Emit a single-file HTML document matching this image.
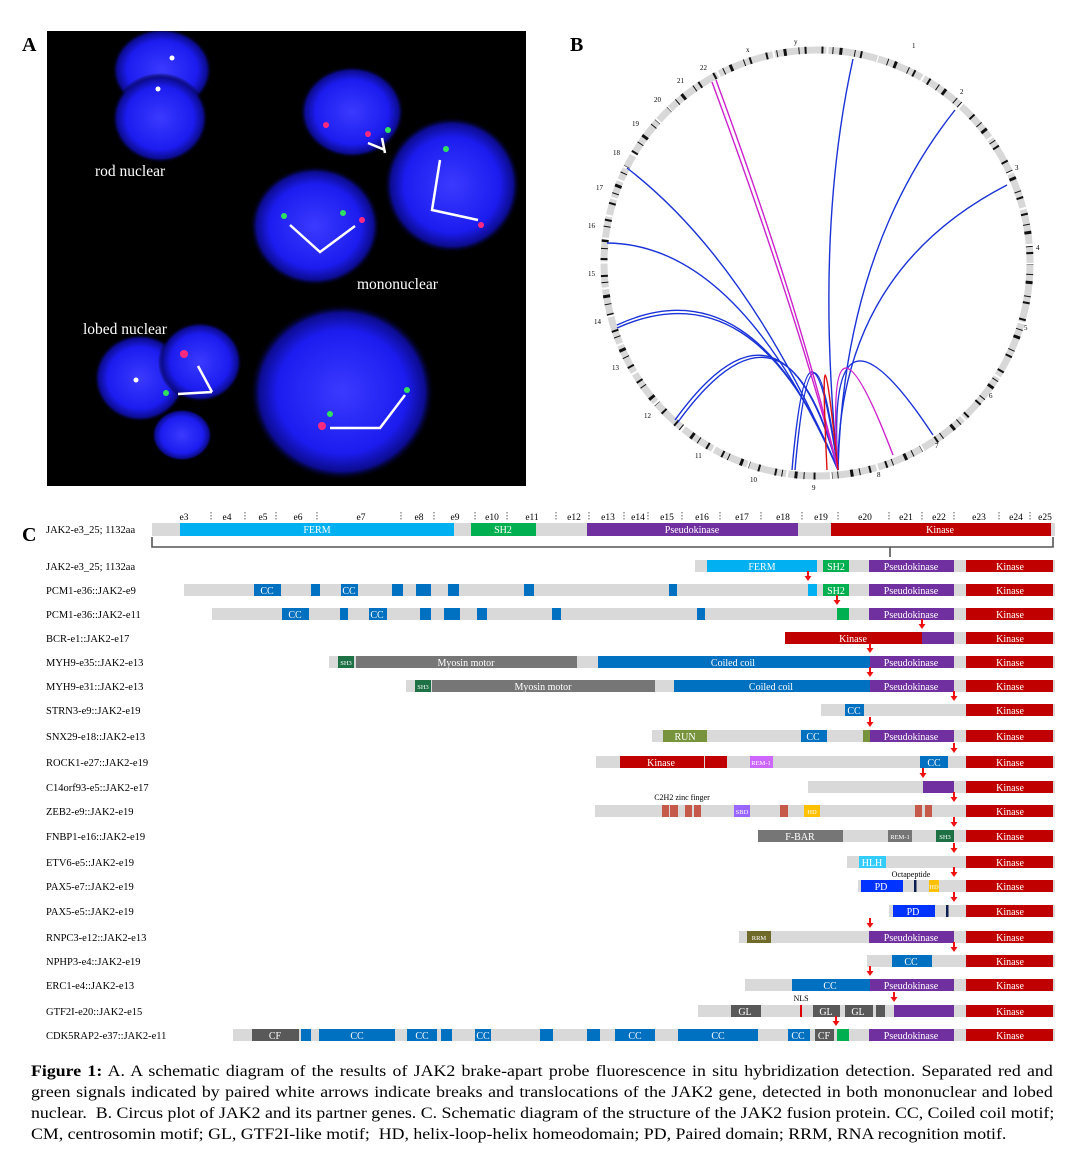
<!DOCTYPE html>
<html><head><meta charset="utf-8"><style>
body{margin:0;background:#fff;width:1080px;height:1160px;overflow:hidden;position:relative;font-family:"Liberation Serif",serif}
svg{position:absolute;left:0;top:0}
.cap{position:absolute;left:31px;top:1061px;width:918px;font-size:16px;line-height:21px;color:#000;transform:scaleX(1.113);transform-origin:0 0}
.cap div{text-align:justify;text-align-last:justify;white-space:nowrap}
.cap div.l{text-align-last:left}
</style></head><body>
<svg width="1080" height="1160" viewBox="0 0 1080 1160" font-family="Liberation Serif, serif">
<defs>
<radialGradient id="nb" cx="50%" cy="50%" r="50%">
<stop offset="0" stop-color="#3a3aff"/><stop offset="0.7" stop-color="#1c1cf0"/><stop offset="0.9" stop-color="#0c0c90"/><stop offset="1" stop-color="#000010" stop-opacity="0"/></radialGradient>
<clipPath id="ca"><rect x="47" y="31" width="479" height="455"/></clipPath>
</defs>
<text x="22" y="51" font-size="20" font-weight="bold">A</text>
<rect x="47" y="31" width="479" height="455" fill="#000"/>
<g fill="url(#nb)" clip-path="url(#ca)">
<ellipse cx="162" cy="70" rx="50" ry="42"/><ellipse cx="160" cy="118" rx="48" ry="45"/>
<ellipse cx="352" cy="112" rx="52" ry="46"/>
<ellipse cx="452" cy="185" rx="68" ry="68"/>
<ellipse cx="315" cy="226" rx="65" ry="60"/>
<ellipse cx="140" cy="378" rx="46" ry="44"/><ellipse cx="200" cy="362" rx="42" ry="40"/><ellipse cx="182" cy="435" rx="30" ry="26"/>
<ellipse cx="342" cy="392" rx="92" ry="88"/>
</g>
<g fill="#fff"><circle cx="172" cy="58" r="2.5"/><circle cx="158" cy="89" r="2.5"/><circle cx="136" cy="380" r="2.5"/></g>
<g fill="#ff2a80"><circle cx="326" cy="125" r="3"/><circle cx="368" cy="134" r="3"/><circle cx="481" cy="225" r="3"/><circle cx="362" cy="220" r="3"/><circle cx="184" cy="354" r="4"/><circle cx="322" cy="426" r="4"/></g>
<g fill="#30e060"><circle cx="388" cy="130" r="3"/><circle cx="446" cy="149" r="3"/><circle cx="284" cy="216" r="3"/><circle cx="343" cy="213" r="3"/><circle cx="166" cy="393" r="3"/><circle cx="407" cy="390" r="3"/><circle cx="330" cy="414" r="3"/></g>
<g stroke="#fff" stroke-width="2.5" fill="none">
<path d="M368 143 L385 150 M382 138 L385 153"/>
<path d="M440 160 L432 210 L478 220"/>
<path d="M290 225 L320 252 L355 226"/>
<path d="M212 392 L198 366 M212 392 L178 394"/>
<path d="M330 428 L380 428 L405 395"/>
</g>
<g fill="#fff" font-size="15.5"><text x="95" y="176">rod nuclear</text><text x="357" y="289">mononuclear</text><text x="83" y="334">lobed nuclear</text></g>
<text x="570" y="51" font-size="20" font-weight="bold">B</text>
<circle cx="817" cy="263" r="213" fill="none" stroke="#d8d8d8" stroke-width="7"/>
<circle cx="817" cy="263" r="213" fill="none" stroke="#111" stroke-width="7" stroke-dasharray="2 9 1 6 3 12 1 5 2 15"/>
<circle cx="817" cy="263" r="213" fill="none" stroke="#fff" stroke-width="9" stroke-dasharray="1.5 58 2 57 2 52 2 49 2 47 2 45 2 42 2 38 2 36 2 35 2 35 2 35 2 30 2 28 2 26 2 24 2 22 2 21 2 16 2 17 2 12 2 13 2 40 2 15"/>
<g font-size="7" fill="#000">
<text x="912" y="48">1</text><text x="960" y="94">2</text><text x="1015" y="170">3</text><text x="1036" y="250">4</text><text x="1024" y="330">5</text><text x="989" y="398">6</text><text x="935" y="448">7</text><text x="877" y="477">8</text><text x="812" y="490">9</text><text x="750" y="482">10</text><text x="695" y="458">11</text><text x="644" y="418">12</text><text x="612" y="370">13</text><text x="594" y="324">14</text><text x="588" y="276">15</text><text x="588" y="228">16</text><text x="596" y="190">17</text><text x="613" y="155">18</text><text x="632" y="126">19</text><text x="654" y="102">20</text><text x="677" y="83">21</text><text x="700" y="70">22</text><text x="746" y="52">x</text><text x="794" y="44">y</text>
</g>
<g fill="none" stroke-width="1.4">
<g stroke="#1a33d6">
<path d="M853 59 Q814 236 838 470"/>
<path d="M955 110 Q844 250 838 470"/>
<path d="M1007 185 Q838 272 838 470"/>
<path d="M933 435 Q825 271 838 470"/>
<path d="M792 470 Q809 274 838 470"/><path d="M795 470 Q812 276 838 470"/>
<path d="M675 420 Q784 269 838 470"/><path d="M678 422 Q787 272 838 470"/>
<path d="M617 325 Q753 262 838 470"/><path d="M617 328 Q755 266 838 470"/>
<path d="M607 243 Q738 244 838 470"/>
<path d="M627 168 Q748 261 838 470"/>
</g>
<g stroke="#cc22cc"><path d="M712 82 Q794 304 838 470"/><path d="M716 80 Q798 302 838 470"/><path d="M893 455 Q824 274 838 470"/></g>
<path stroke="#dd1111" d="M827 470 Q818 280 838 470"/>
</g>
<text x="22" y="541" font-size="20" font-weight="bold">C</text>
<g font-size="10.5" fill="#000">
<text x="46" y="533">JAK2-e3_25; 1132aa</text>
<text x="46" y="570">JAK2-e3_25; 1132aa</text>
<text x="46" y="594">PCM1-e36::JAK2-e9</text>
<text x="46" y="618">PCM1-e36::JAK2-e11</text>
<text x="46" y="642">BCR-e1::JAK2-e17</text>
<text x="46" y="666">MYH9-e35::JAK2-e13</text>
<text x="46" y="690">MYH9-e31::JAK2-e13</text>
<text x="46" y="714">STRN3-e9::JAK2-e19</text>
<text x="46" y="740">SNX29-e18::JAK2-e13</text>
<text x="46" y="766">ROCK1-e27::JAK2-e19</text>
<text x="46" y="791">C14orf93-e5::JAK2-e17</text>
<text x="46" y="815">ZEB2-e9::JAK2-e19</text>
<text x="46" y="840">FNBP1-e16::JAK2-e19</text>
<text x="46" y="866">ETV6-e5::JAK2-e19</text>
<text x="46" y="890">PAX5-e7::JAK2-e19</text>
<text x="46" y="915">PAX5-e5::JAK2-e19</text>
<text x="46" y="941">RNPC3-e12::JAK2-e13</text>
<text x="46" y="965">NPHP3-e4::JAK2-e19</text>
<text x="46" y="989">ERC1-e4::JAK2-e13</text>
<text x="46" y="1015">GTF2I-e20::JAK2-e15</text>
<text x="46" y="1039">CDK5RAP2-e37::JAK2-e11</text>
</g>
<rect x="152" y="523" width="903" height="13" fill="#d9d9d9"/>
<rect x="180" y="523" width="274" height="13" fill="#00b0f0"/>
<rect x="471" y="523" width="65" height="13" fill="#00b050"/>
<rect x="587" y="523" width="211" height="13" fill="#7030a0"/>
<rect x="831" y="523" width="220" height="13" fill="#c00000"/>
<g font-size="9.5" fill="#000" text-anchor="middle">
<text x="184" y="520">e3</text><text x="227" y="520">e4</text><text x="263" y="520">e5</text><text x="298" y="520">e6</text><text x="361" y="520">e7</text><text x="419" y="520">e8</text><text x="455" y="520">e9</text><text x="492" y="520">e10</text><text x="532" y="520">e11</text><text x="574" y="520">e12</text><text x="608" y="520">e13</text><text x="638" y="520">e14</text><text x="667" y="520">e15</text><text x="702" y="520">e16</text><text x="742" y="520">e17</text><text x="783" y="520">e18</text><text x="821" y="520">e19</text><text x="865" y="520">e20</text><text x="906" y="520">e21</text><text x="939" y="520">e22</text><text x="979" y="520">e23</text><text x="1016" y="520">e24</text><text x="1045" y="520">e25</text>
</g>
<g stroke="#333" stroke-width="0.8" stroke-dasharray="1.5 1.5">
<path d="M211 512v8M245 512v8M276 512v8M317 512v8M401 512v8M434 512v8M475 512v8M507 512v8M556 512v8M589 512v8M624 512v8M648 512v8M682 512v8M720 512v8M761 512v8M802 512v8M838 512v8M889 512v8M922 512v8M954 512v8M999 512v8M1030 512v8"/>
</g>
<path d="M152 537 V547 H1053 V537 M890 547 V557" fill="none" stroke="#555" stroke-width="1.6"/>
<g font-size="10" fill="#fff" text-anchor="middle">
<text x="317" y="533">FERM</text><text x="503" y="533">SH2</text><text x="692" y="533">Pseudokinase</text><text x="940" y="533">Kinase</text>
</g>
<g fill="#d9d9d9">
<rect x="695" y="560" width="360" height="12"/>
<rect x="184" y="584" width="871" height="12"/>
<rect x="212" y="608" width="843" height="12"/>
<rect x="785" y="632" width="270" height="12"/>
<rect x="329" y="656" width="726" height="12"/>
<rect x="406" y="680" width="649" height="12"/>
<rect x="821" y="704" width="234" height="12"/>
<rect x="652" y="730" width="403" height="12"/>
<rect x="596" y="756" width="459" height="12"/>
<rect x="808" y="781" width="247" height="12"/>
<rect x="595" y="805" width="460" height="12"/>
<rect x="758" y="830" width="297" height="12"/>
<rect x="847" y="856" width="208" height="12"/>
<rect x="858" y="880" width="197" height="12"/>
<rect x="889" y="905" width="166" height="12"/>
<rect x="739" y="931" width="316" height="12"/>
<rect x="867" y="955" width="188" height="12"/>
<rect x="745" y="979" width="310" height="12"/>
<rect x="698" y="1005" width="357" height="12"/>
<rect x="233" y="1029" width="822" height="12"/>
</g>
<g fill="#c00000">
<rect x="966" y="560" width="87" height="12"/><rect x="966" y="584" width="87" height="12"/><rect x="966" y="608" width="87" height="12"/><rect x="966" y="632" width="87" height="12"/><rect x="966" y="656" width="87" height="12"/><rect x="966" y="680" width="87" height="12"/><rect x="966" y="704" width="87" height="12"/><rect x="966" y="730" width="87" height="12"/><rect x="966" y="756" width="87" height="12"/><rect x="966" y="781" width="87" height="12"/><rect x="966" y="805" width="87" height="12"/><rect x="966" y="830" width="87" height="12"/><rect x="966" y="856" width="87" height="12"/><rect x="966" y="880" width="87" height="12"/><rect x="966" y="905" width="87" height="12"/><rect x="966" y="931" width="87" height="12"/><rect x="966" y="955" width="87" height="12"/><rect x="966" y="979" width="87" height="12"/><rect x="966" y="1005" width="87" height="12"/><rect x="966" y="1029" width="87" height="12"/>
<rect x="785" y="632" width="137" height="12"/>
<rect x="620" y="756" width="84" height="12"/><rect x="705" y="756" width="22" height="12"/>
</g>
<g fill="#7030a0">
<rect x="869" y="560" width="85" height="12"/><rect x="869" y="584" width="85" height="12"/><rect x="869" y="608" width="85" height="12"/><rect x="922" y="632" width="32" height="12"/><rect x="869" y="656" width="85" height="12"/><rect x="869" y="680" width="85" height="12"/><rect x="869" y="730" width="85" height="12"/><rect x="923" y="781" width="31" height="12"/><rect x="869" y="931" width="85" height="12"/><rect x="869" y="979" width="85" height="12"/><rect x="894" y="1005" width="60" height="12"/><rect x="869" y="1029" width="85" height="12"/>
</g>
<g fill="#00b0f0"><rect x="707" y="560" width="110" height="12"/><rect x="808" y="584" width="9" height="12"/></g>
<g fill="#00b050"><rect x="823" y="560" width="26" height="12"/><rect x="823" y="584" width="26" height="12"/><rect x="837" y="608" width="12" height="12"/><rect x="837" y="1029" width="12" height="12"/></g>
<g fill="#0070c0">
<rect x="254" y="584" width="27" height="12"/><rect x="311" y="584" width="9" height="12"/><rect x="341" y="584" width="17" height="12"/><rect x="392" y="584" width="11" height="12"/><rect x="416" y="584" width="15" height="12"/><rect x="448" y="584" width="11" height="12"/><rect x="524" y="584" width="10" height="12"/><rect x="669" y="584" width="8" height="12"/>
<rect x="282" y="608" width="27" height="12"/><rect x="340" y="608" width="8" height="12"/><rect x="369" y="608" width="18" height="12"/><rect x="420" y="608" width="11" height="12"/><rect x="444" y="608" width="16" height="12"/><rect x="477" y="608" width="10" height="12"/><rect x="552" y="608" width="9" height="12"/><rect x="697" y="608" width="8" height="12"/>
<rect x="598" y="656" width="272" height="12"/><rect x="674" y="680" width="196" height="12"/>
<rect x="845" y="704" width="19" height="12"/><rect x="801" y="730" width="26" height="12"/><rect x="920" y="756" width="28" height="12"/>
<rect x="892" y="955" width="40" height="12"/><rect x="792" y="979" width="78" height="12"/>
<rect x="301" y="1029" width="10" height="12"/><rect x="319" y="1029" width="76" height="12"/><rect x="407" y="1029" width="30" height="12"/><rect x="441" y="1029" width="11" height="12"/><rect x="475" y="1029" width="16" height="12"/><rect x="540" y="1029" width="13" height="12"/><rect x="587" y="1029" width="13" height="12"/><rect x="615" y="1029" width="40" height="12"/><rect x="678" y="1029" width="80" height="12"/><rect x="788" y="1029" width="22" height="12"/>
</g>
<g fill="#767676"><rect x="356" y="656" width="221" height="12"/><rect x="432" y="680" width="223" height="12"/><rect x="758" y="830" width="85" height="12"/><rect x="888" y="830" width="24" height="12"/></g>
<g fill="#595959"><rect x="731" y="1005" width="30" height="12"/><rect x="813" y="1005" width="27" height="12"/><rect x="845" y="1005" width="28" height="12"/><rect x="876" y="1005" width="9" height="12"/><rect x="252" y="1029" width="47" height="12"/><rect x="815" y="1029" width="19" height="12"/></g>
<g fill="#1e7145"><rect x="338" y="656" width="16" height="12"/><rect x="415" y="680" width="16" height="12"/><rect x="936" y="830" width="18" height="12"/></g>
<g fill="#77933c"><rect x="663" y="730" width="44" height="12"/><rect x="863" y="730" width="7" height="12"/></g>
<rect x="747" y="931" width="24" height="12" fill="#6f6a2a"/>
<rect x="750" y="756" width="23" height="12" fill="#cc66ff"/>
<g fill="#c55a4a"><rect x="662" y="805" width="7" height="12"/><rect x="670" y="805" width="8" height="12"/><rect x="685" y="805" width="7" height="12"/><rect x="694" y="805" width="7" height="12"/><rect x="780" y="805" width="8" height="12"/><rect x="915" y="805" width="7" height="12"/><rect x="925" y="805" width="7" height="12"/></g>
<rect x="734" y="805" width="16" height="12" fill="#9966ff"/>
<g fill="#ffc000"><rect x="804" y="805" width="16" height="12"/><rect x="929" y="880" width="10" height="12"/></g>
<rect x="859" y="856" width="27" height="12" fill="#33ccff"/>
<g fill="#0033ff"><rect x="861" y="880" width="42" height="12"/><rect x="893" y="905" width="42" height="12"/></g>
<g fill="#0a1f4f"><rect x="914" y="880" width="2.5" height="12"/><rect x="946" y="905" width="2.5" height="12"/></g>
<rect x="800" y="1005" width="2" height="12" fill="#e00000"/>
<g font-size="10" fill="#fff" text-anchor="middle">
<text x="762" y="570">FERM</text><text x="836" y="570">SH2</text><text x="836" y="594">SH2</text>
<text x="911" y="570">Pseudokinase</text><text x="911" y="594">Pseudokinase</text><text x="911" y="618">Pseudokinase</text><text x="911" y="666">Pseudokinase</text><text x="911" y="690">Pseudokinase</text><text x="911" y="740">Pseudokinase</text><text x="911" y="941">Pseudokinase</text><text x="911" y="989">Pseudokinase</text><text x="911" y="1039">Pseudokinase</text>
<text x="1010" y="570">Kinase</text><text x="1010" y="594">Kinase</text><text x="1010" y="618">Kinase</text><text x="1010" y="642">Kinase</text><text x="1010" y="666">Kinase</text><text x="1010" y="690">Kinase</text><text x="1010" y="714">Kinase</text><text x="1010" y="740">Kinase</text><text x="1010" y="766">Kinase</text><text x="1010" y="791">Kinase</text><text x="1010" y="815">Kinase</text><text x="1010" y="840">Kinase</text><text x="1010" y="866">Kinase</text><text x="1010" y="890">Kinase</text><text x="1010" y="915">Kinase</text><text x="1010" y="941">Kinase</text><text x="1010" y="965">Kinase</text><text x="1010" y="989">Kinase</text><text x="1010" y="1015">Kinase</text><text x="1010" y="1039">Kinase</text>
<text x="267" y="594">CC</text><text x="349" y="594">CC</text><text x="295" y="618">CC</text><text x="377" y="618">CC</text>
<text x="853" y="642">Kinase</text>
<text x="466" y="666">Myosin motor</text><text x="543" y="690">Myosin motor</text>
<text x="733" y="666">Coiled coil</text><text x="771" y="690">Coiled coil</text>
<text x="854" y="714">CC</text><text x="685" y="740">RUN</text><text x="813" y="740">CC</text>
<text x="661" y="766">Kinase</text><text x="934" y="766">CC</text>
<text x="800" y="840">F-BAR</text><text x="872" y="866">HLH</text><text x="881" y="890">PD</text><text x="913" y="915">PD</text>
<text x="911" y="965">CC</text><text x="830" y="989">CC</text>
<text x="745" y="1015">GL</text><text x="826" y="1015">GL</text><text x="858" y="1015">GL</text>
<text x="275" y="1039">CF</text><text x="357" y="1039">CC</text><text x="422" y="1039">CC</text><text x="483" y="1039">CC</text><text x="635" y="1039">CC</text><text x="718" y="1039">CC</text><text x="798" y="1039">CC</text><text x="824" y="1039">CF</text>
</g>
<g font-size="6.5" fill="#fff" text-anchor="middle">
<text x="346" y="665">SH3</text><text x="423" y="689">SH3</text><text x="761" y="765">REM-1</text><text x="742" y="814">SBD</text><text x="812" y="814">HD</text><text x="945" y="839">SH3</text><text x="900" y="839">REM-1</text><text x="934" y="889">HD</text><text x="759" y="940">RRM</text>
</g>
<g font-size="8" fill="#000" text-anchor="middle"><text x="682" y="800">C2H2 zinc finger</text><text x="911" y="877">Octapeptide</text><text x="801" y="1001">NLS</text></g>
<g fill="#ee1111">
<path d="M807 571h2v5h2.5l-3.5 5l-3.5-5h2.5z"/>
<path d="M836 595h2v5h2.5l-3.5 5l-3.5-5h2.5z"/>
<path d="M921 619h2v5h2.5l-3.5 5l-3.5-5h2.5z"/>
<path d="M869 643h2v5h2.5l-3.5 5l-3.5-5h2.5z"/>
<path d="M869 667h2v5h2.5l-3.5 5l-3.5-5h2.5z"/>
<path d="M953 691h2v5h2.5l-3.5 5l-3.5-5h2.5z"/>
<path d="M869 717h2v5h2.5l-3.5 5l-3.5-5h2.5z"/>
<path d="M953 743h2v5h2.5l-3.5 5l-3.5-5h2.5z"/>
<path d="M922 768h2v5h2.5l-3.5 5l-3.5-5h2.5z"/>
<path d="M953 792h2v5h2.5l-3.5 5l-3.5-5h2.5z"/>
<path d="M953 817h2v5h2.5l-3.5 5l-3.5-5h2.5z"/>
<path d="M953 843h2v5h2.5l-3.5 5l-3.5-5h2.5z"/>
<path d="M953 867h2v5h2.5l-3.5 5l-3.5-5h2.5z"/>
<path d="M953 892h2v5h2.5l-3.5 5l-3.5-5h2.5z"/>
<path d="M869 918h2v5h2.5l-3.5 5l-3.5-5h2.5z"/>
<path d="M953 942h2v5h2.5l-3.5 5l-3.5-5h2.5z"/>
<path d="M869 966h2v5h2.5l-3.5 5l-3.5-5h2.5z"/>
<path d="M893 992h2v5h2.5l-3.5 5l-3.5-5h2.5z"/>
<path d="M835 1016h2v5h2.5l-3.5 5l-3.5-5h2.5z"/>
</g>
</svg>
<div class="cap">
<div><b>Figure 1:</b> A. A schematic diagram of the results of JAK2 brake-apart probe fluorescence in situ hybridization detection. Separated red and</div>
<div>green signals indicated by paired white arrows indicate breaks and translocations of the JAK2 gene, detected in both mononuclear and lobed</div>
<div>nuclear.&nbsp; B. Circus plot of JAK2 and its partner genes. C. Schematic diagram of the structure of the JAK2 fusion protein. CC, Coiled coil motif;</div>
<div class="l">CM, centrosomin motif; GL, GTF2I-like motif;&nbsp; HD, helix-loop-helix homeodomain; PD, Paired domain; RRM, RNA recognition motif.</div>
</div>
</body></html>
